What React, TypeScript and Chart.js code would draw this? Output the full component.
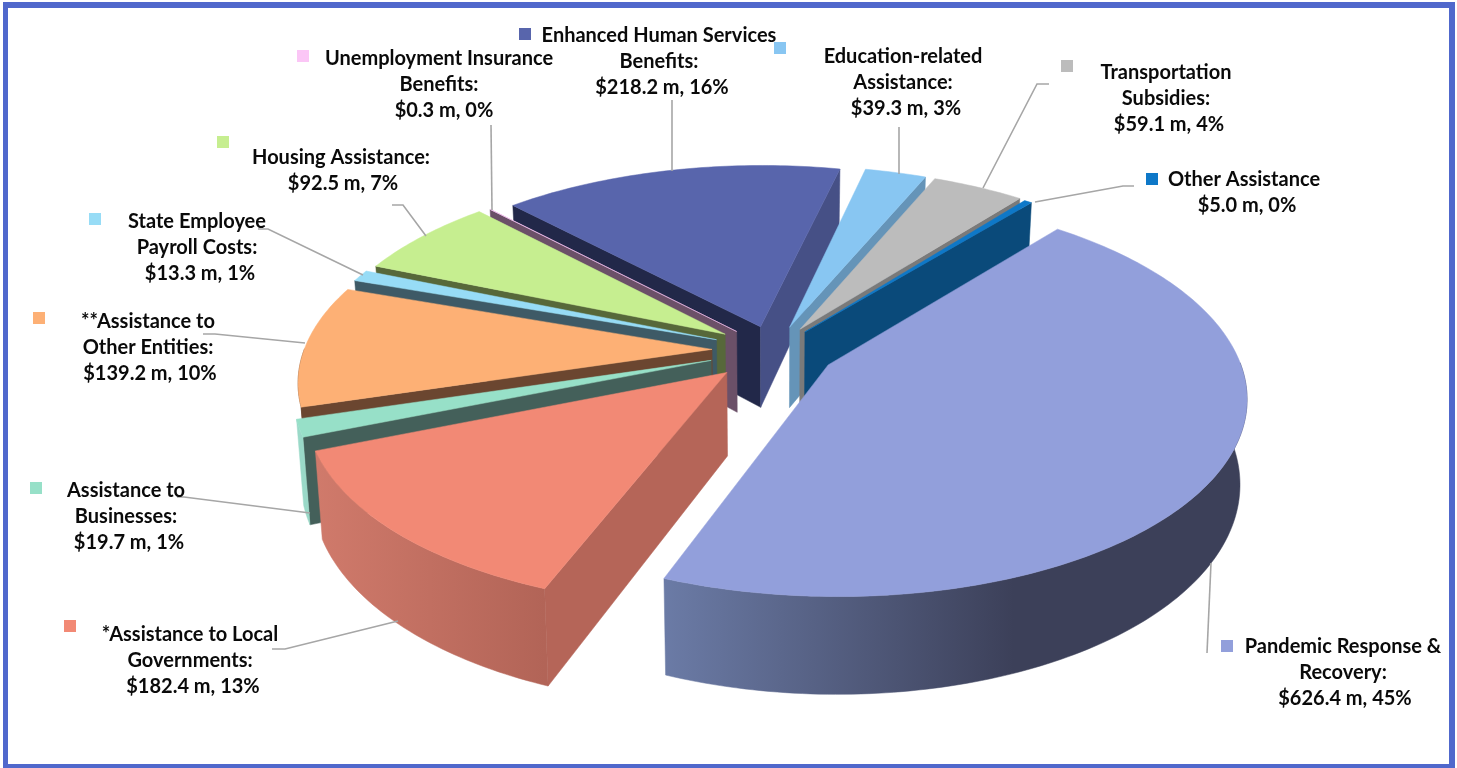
import React, { useEffect, useRef } from "react";
import { Chart, registerables } from "chart.js";

Chart.register(...registerables);

// ---- data ----
const categories = [
  "Pandemic Response & Recovery",
  "*Assistance to Local Governments",
  "Assistance to Businesses",
  "**Assistance to Other Entities",
  "State Employee Payroll Costs",
  "Housing Assistance",
  "Unemployment Insurance Benefits",
  "Enhanced Human Services Benefits",
  "Education-related Assistance",
  "Transportation Subsidies",
  "Other Assistance",
];
const values = [626.4, 182.4, 19.7, 139.2, 13.3, 92.5, 0.3, 218.2, 39.3, 59.1, 5.0];
const percents = [45, 13, 1, 10, 1, 7, 0, 16, 3, 4, 0];
const labelLines = [
  ["Pandemic Response &", "Recovery:"],
  ["*Assistance to Local", "Governments:"],
  ["Assistance to", "Businesses:"],
  ["**Assistance to", "Other Entities:"],
  ["State Employee", "Payroll Costs:"],
  ["Housing Assistance:"],
  ["Unemployment Insurance", "Benefits:"],
  ["Enhanced Human Services", "Benefits:"],
  ["Education-related", "Assistance:"],
  ["Transportation", "Subsidies:"],
  ["Other Assistance"],
];

// ---- styles ----
const topColors = ["#929fdb", "#f28975", "#97e0c8", "#fdb075", "#97dcf6", "#c6ee90", "#fbc6f6", "#5865ac", "#88c6f2", "#bcbcbc", "#0e78c8"];
const startCut = ["#3c4059", "#b56558", "#44605a", "#6b4630", "#3e5a66", "#57683a", "#6b5068", "#222849", "#6594b8", "#7a7a7a", "#0a4a7a"];
const endCut = ["#3c4059", "#b56558", "#44605a", "#6b4630", "#3e5a66", "#57683a", "#6b5068", "#465086", "#6594b8", "#7a7a7a", "#0a4a7a"];
const wallFrom = ["#6b7ba6", "#d07a6b", "#9ad9c8", "#6b4630", "#3e5a66", "#57683a", "#6b5068", "#3b4474", "#5f8ca9", "#808080", "#0a4a7a"];
const wallTo = ["#3c4059", "#b26457", "#9ad9c8", "#6b4630", "#3e5a66", "#57683a", "#6b5068", "#3b4474", "#5f8ca9", "#808080", "#0a4a7a"];
const explodePx = [62, 66, 66, 62, 62, 60, 55, 52, 52, 52, 50];

// ---- projection of the flat pie into the tilted view ----
const TILT_Y = 192 / 408;
const PERSPECTIVE = 0.15;
const DEPTH = 82;
const CONVERGE = 0.985;

// ---- label layout: centre x, first line y, value line nudge, then key box x, y ----
const labelX = [1343, 190, 126, 148, 197, 341, 439, 659, 903, 1166, 1244];
const labelY = [647, 635, 491, 322, 222, 158, 59, 36, 57, 73, 180];
const valueDx = [2, 3, 3, 2, 3, 2, 5, 3, 3, 3, 3];
const keyX = [1221, 64, 30, 33, 89, 217, 297, 519, 774, 1061, 1146];
const keyY = [640, 620, 482, 312, 213, 136, 50, 28, 42, 60, 173];
const leaders = [
  [[1211, 563], [1207, 653]],
  [[398, 621], [285, 649], [272, 649]],
  [[310, 513], [184, 497], [177, 497]],
  [[305, 343], [215, 334], [203, 334]],
  [[363, 275], [268, 229], [258, 229]],
  [[426, 236], [403, 205], [392, 205]],
  [[492, 210], [491, 125]],
  [[672, 171], [672, 100]],
  [[899, 174], [899, 127]],
  [[983, 188], [1037, 84], [1049, 84]],
  [[1035, 202], [1123, 186], [1134, 186]],
];
const FONT = "700 20px Lato";
const LINE_H = 26;

type P = { x: number; y: number; w: number };

function sliceGeom(arc: any) {
  const { x, y, startAngle, endAngle, outerRadius } = arc.getProps(["x", "y", "startAngle", "endAngle", "outerRadius"]);
  const R = outerRadius;
  const mid = (startAngle + endAngle) / 2;
  const off = (arc.options.offset || 0) / 4 / R;
  const du = Math.cos(mid) * off;
  const dv = Math.sin(mid) * off;
  const project = (u: number, v: number): P => {
    const w = 1 / (1 - PERSPECTIVE * v);
    return { x: x + R * u * w, y: y + R * TILT_Y * v * w, w };
  };
  const tip = project(du, dv);
  const rim: P[] = [];
  const frontRim: P[] = [];
  const n = Math.max(2, Math.ceil(((endAngle - startAngle) * 180) / Math.PI));
  for (let i = 0; i <= n; i++) {
    const a = startAngle + ((endAngle - startAngle) * i) / n;
    const p = project(Math.cos(a) + du, Math.sin(a) + dv);
    rim.push(p);
    if (Math.sin(a) > -0.02) frontRim.push(p);
  }
  const down = (p: P) => ({ x: x + (p.x - x) * CONVERGE, y: p.y + DEPTH * p.w });
  return { tip, rim, frontRim, mid, down };
}

function poly(ctx: CanvasRenderingContext2D, pts: { x: number; y: number }[], fill: any) {
  ctx.beginPath();
  pts.forEach((p, i) => (i ? ctx.lineTo(p.x, p.y) : ctx.moveTo(p.x, p.y)));
  ctx.closePath();
  ctx.fillStyle = fill;
  ctx.fill();
  ctx.strokeStyle = fill;
  ctx.lineWidth = 0.5;
  ctx.stroke();
}

// A cut face shows only if the drop from its top edge leaves the slice's top face.
function faceVisible(tip: P, end: P, inner: P) {
  const ex = end.x - tip.x;
  const ey = end.y - tip.y;
  const crossIn = ex * (inner.y - tip.y) - ey * (inner.x - tip.x);
  const crossDown = ex * 1;
  return crossIn * crossDown < 0;
}

const pie3d = {
  id: "pie3d",
  beforeDatasetDraw(chart: any, args: any) {
    const ctx: CanvasRenderingContext2D = chart.ctx;
    const geoms = args.meta.data.map((arc: any, i: number) => ({ i, arc, ...sliceGeom(arc) }));
    const order = [...geoms].sort((a: any, b: any) => Math.sin(a.mid) - Math.sin(b.mid));
    ctx.save();
    for (const g of order) {
      const first = g.rim[0];
      const last = g.rim[g.rim.length - 1];
      const inner = g.rim[Math.floor(g.rim.length / 2)];
      if (faceVisible(g.tip, first, g.i === 6 ? last : inner) || g.i === 6) {
        poly(ctx, [g.tip, first, g.down(first), g.down(g.tip)], startCut[g.i]);
      }
      if (g.i !== 6 && faceVisible(g.tip, last, inner)) {
        poly(ctx, [g.tip, last, g.down(last), g.down(g.tip)], endCut[g.i]);
      }
      if (g.frontRim.length > 1) {
        const xs = g.frontRim.map((p: P) => p.x);
        const x0 = Math.min(...xs);
        const x1 = g.i === 0 ? x0 + 350 : Math.max(...xs);
        const grad = ctx.createLinearGradient(x0, 0, x1, 0);
        grad.addColorStop(0, wallFrom[g.i]);
        grad.addColorStop(1, wallTo[g.i]);
        poly(ctx, [...g.frontRim, ...[...g.frontRim].reverse().map(g.down)], grad);
      }
    }
    for (const g of geoms) {
      poly(ctx, [g.tip, ...g.rim], g.arc.options.backgroundColor);
    }
    ctx.restore();
    return false;
  },
  afterDraw(chart: any) {
    const ctx: CanvasRenderingContext2D = chart.ctx;
    ctx.save();
    // frame
    ctx.fillStyle = "#5068cc";
    ctx.fillRect(3, 2, 1452, 6);
    ctx.fillRect(3, 764, 1452, 4);
    ctx.fillRect(3, 2, 5, 766);
    ctx.fillRect(1449, 2, 6, 766);
    // leader lines
    ctx.strokeStyle = "#a6a6a6";
    ctx.lineWidth = 1.6;
    leaders.forEach((pts) => {
      ctx.beginPath();
      pts.forEach((p, i) => (i ? ctx.lineTo(p[0], p[1]) : ctx.moveTo(p[0], p[1])));
      ctx.stroke();
    });
    // keys and labels
    ctx.font = FONT;
    ctx.textAlign = "center";
    ctx.textBaseline = "middle";
    categories.forEach((_, i) => {
      ctx.fillStyle = topColors[i];
      ctx.fillRect(keyX[i], keyY[i], 12, 12);
      ctx.fillStyle = "#0a0a0a";
      labelLines[i].forEach((t, k) => ctx.fillText(t, labelX[i], labelY[i] + k * LINE_H));
      ctx.fillText(
        `$${values[i].toFixed(1)} m, ${percents[i]}%`,
        labelX[i] + valueDx[i],
        labelY[i] + labelLines[i].length * LINE_H
      );
    });
    ctx.restore();
  },
};

export default function App() {
  const ref = useRef<HTMLCanvasElement>(null);
  useEffect(() => {
    const chart = new Chart(ref.current as HTMLCanvasElement, {
      type: "pie",
      data: {
        labels: categories,
        datasets: [
          {
            data: values,
            backgroundColor: topColors,
            offset: explodePx.map((p) => p * 4),
            borderWidth: 0,
            clip: false,
          } as any,
        ],
      },
      options: {
        responsive: false,
        animation: false,
        devicePixelRatio: 1,
        rotation: 39.5,
        radius: 408,
        layout: { padding: { left: 91, right: 0, top: 0, bottom: 68 } },
        plugins: { legend: { display: false }, tooltip: { enabled: false } },
      } as any,
      plugins: [pie3d as any],
    });
    return () => chart.destroy();
  }, []);
  return (
    <canvas
      ref={ref}
      width={1457}
      height={768}
      style={{ position: "absolute", left: 0, top: 0, width: 1457, height: 768, background: "#fff" }}
    />
  );
}
